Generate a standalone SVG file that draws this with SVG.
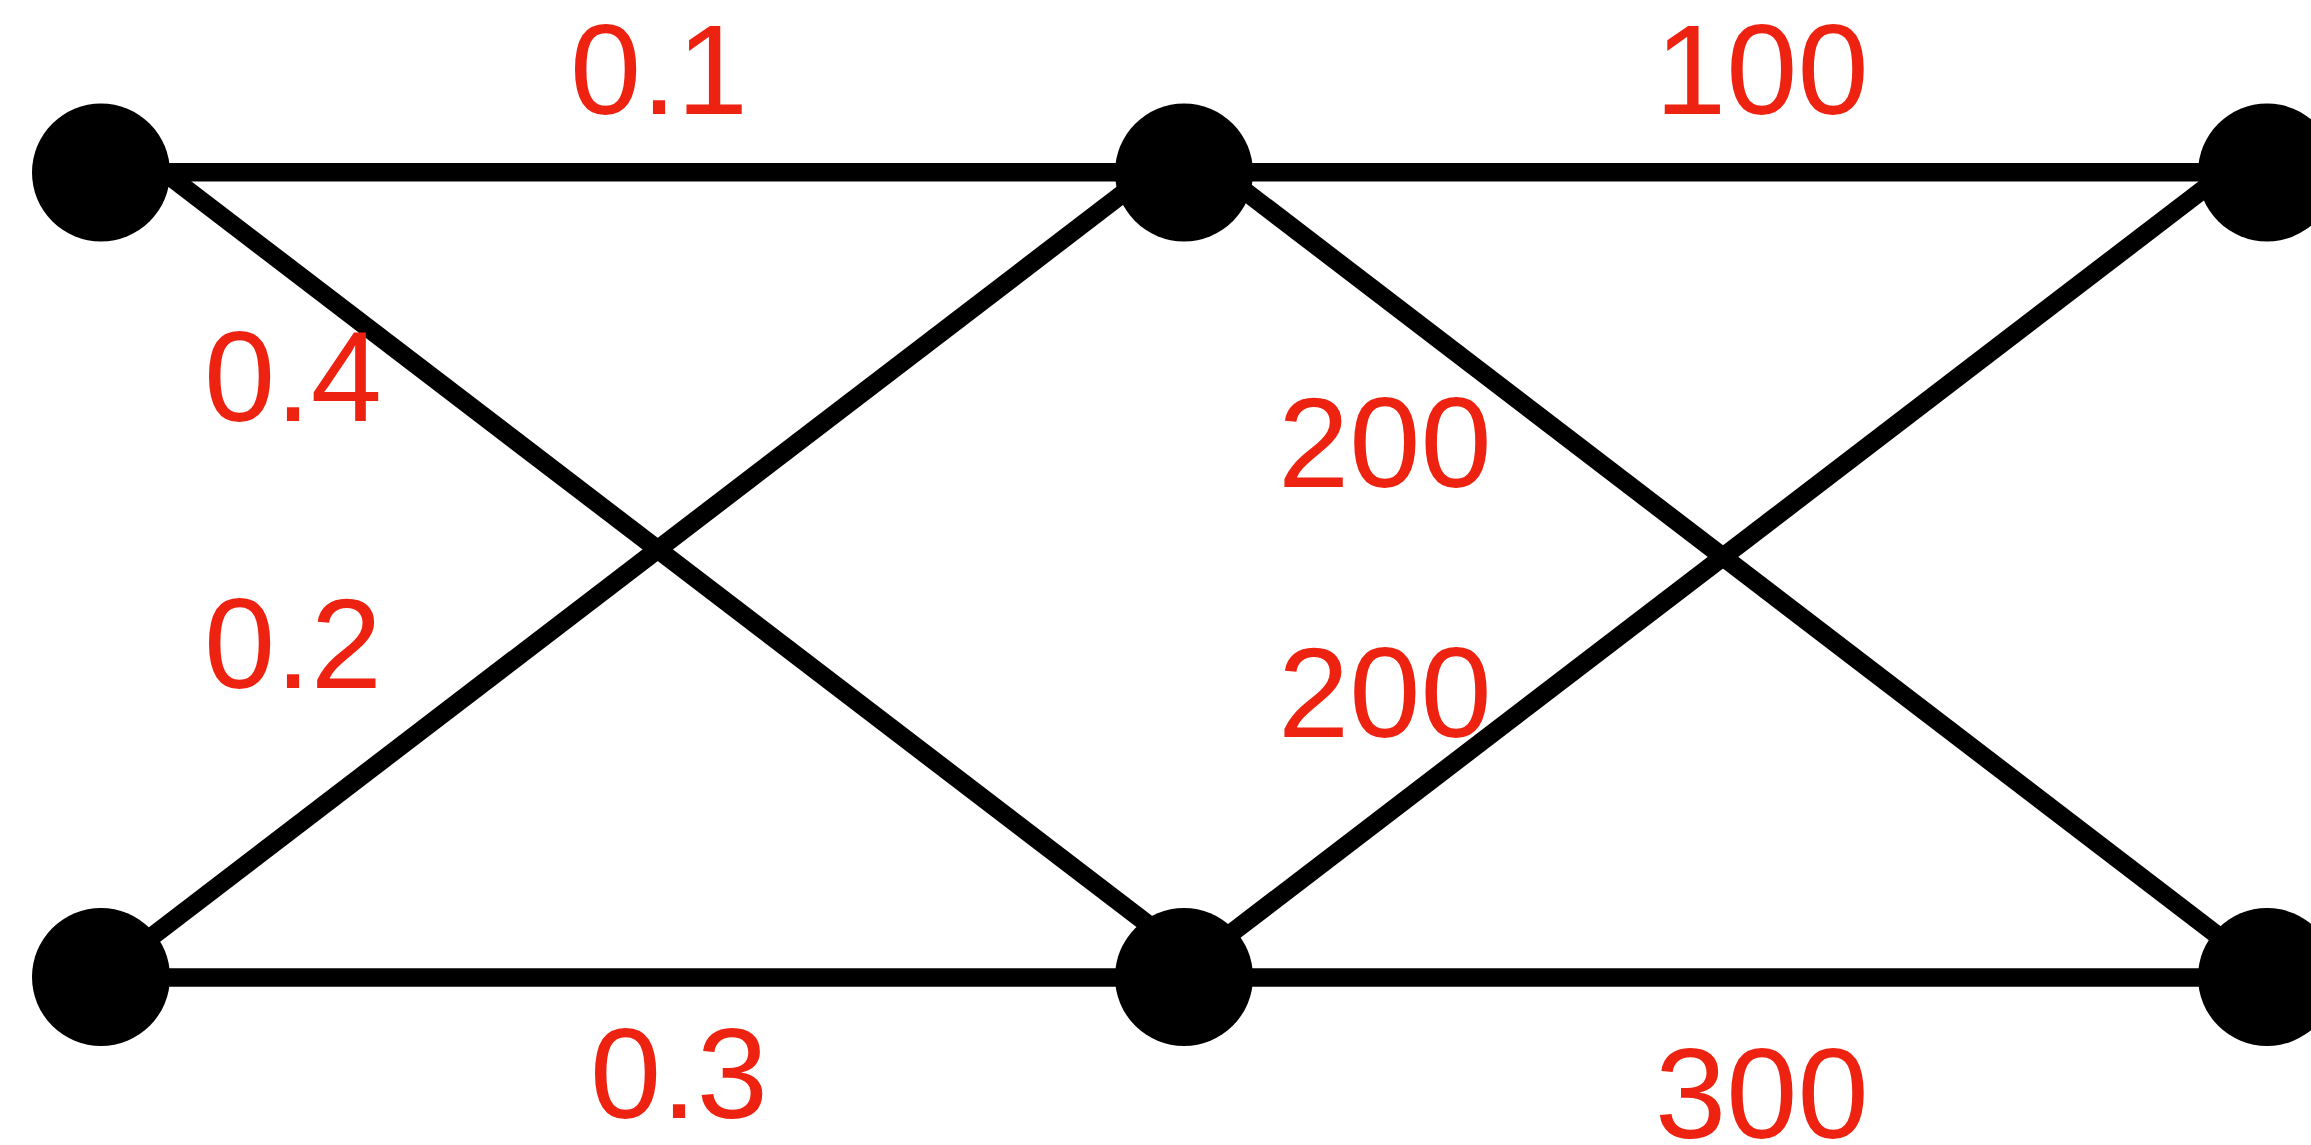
<svg xmlns="http://www.w3.org/2000/svg" width="2311" height="1145" viewBox="0 0 2311 1145">
<style>
.e{stroke:#000;stroke-width:18.5;fill:none}
.n{fill:#000}
.l{font-family:"Liberation Sans",Arial,sans-serif;font-size:128px;fill:#EE2211}
</style>
<rect width="2311" height="1145" fill="#fff"/>
<g id="connectors">
<line class="e" x1="101" y1="172.3" x2="1184" y2="172.3"/>
<line class="e" x1="1184" y1="172.3" x2="2267" y2="172.3"/>
<line class="e" x1="101" y1="977.5" x2="1184" y2="977.5"/>
<line class="e" x1="1184" y1="977.5" x2="2267" y2="977.5"/>
<line class="e" x1="164" y1="172" x2="1217" y2="977"/>
<line class="e" x1="1151" y1="172" x2="99" y2="977"/>
<line class="e" x1="1220" y1="172" x2="2272" y2="977"/>
<line class="e" x1="2226" y1="172" x2="1174" y2="977"/>
</g>
<g id="node-tl"><circle class="n" cx="101" cy="172.5" r="69"/></g>
<g id="node-tm"><circle class="n" cx="1184" cy="172.5" r="69"/></g>
<g id="node-tr"><circle class="n" cx="2267" cy="172.5" r="69"/></g>
<g id="node-bl"><circle class="n" cx="101" cy="977" r="69"/></g>
<g id="node-bm"><circle class="n" cx="1184" cy="977" r="69"/></g>
<g id="node-br"><circle class="n" cx="2267" cy="977" r="69"/></g>
<g id="labels">
<text class="l" x="570" y="114">0.1</text>
<text class="l" x="1655" y="114">100</text>
<text class="l" x="204" y="421">0.4</text>
<text class="l" x="204" y="688">0.2</text>
<text class="l" x="1278" y="487">200</text>
<text class="l" x="1278" y="737">200</text>
<text class="l" x="590" y="1118">0.3</text>
<text class="l" x="1655" y="1138">300</text>
</g>
</svg>
